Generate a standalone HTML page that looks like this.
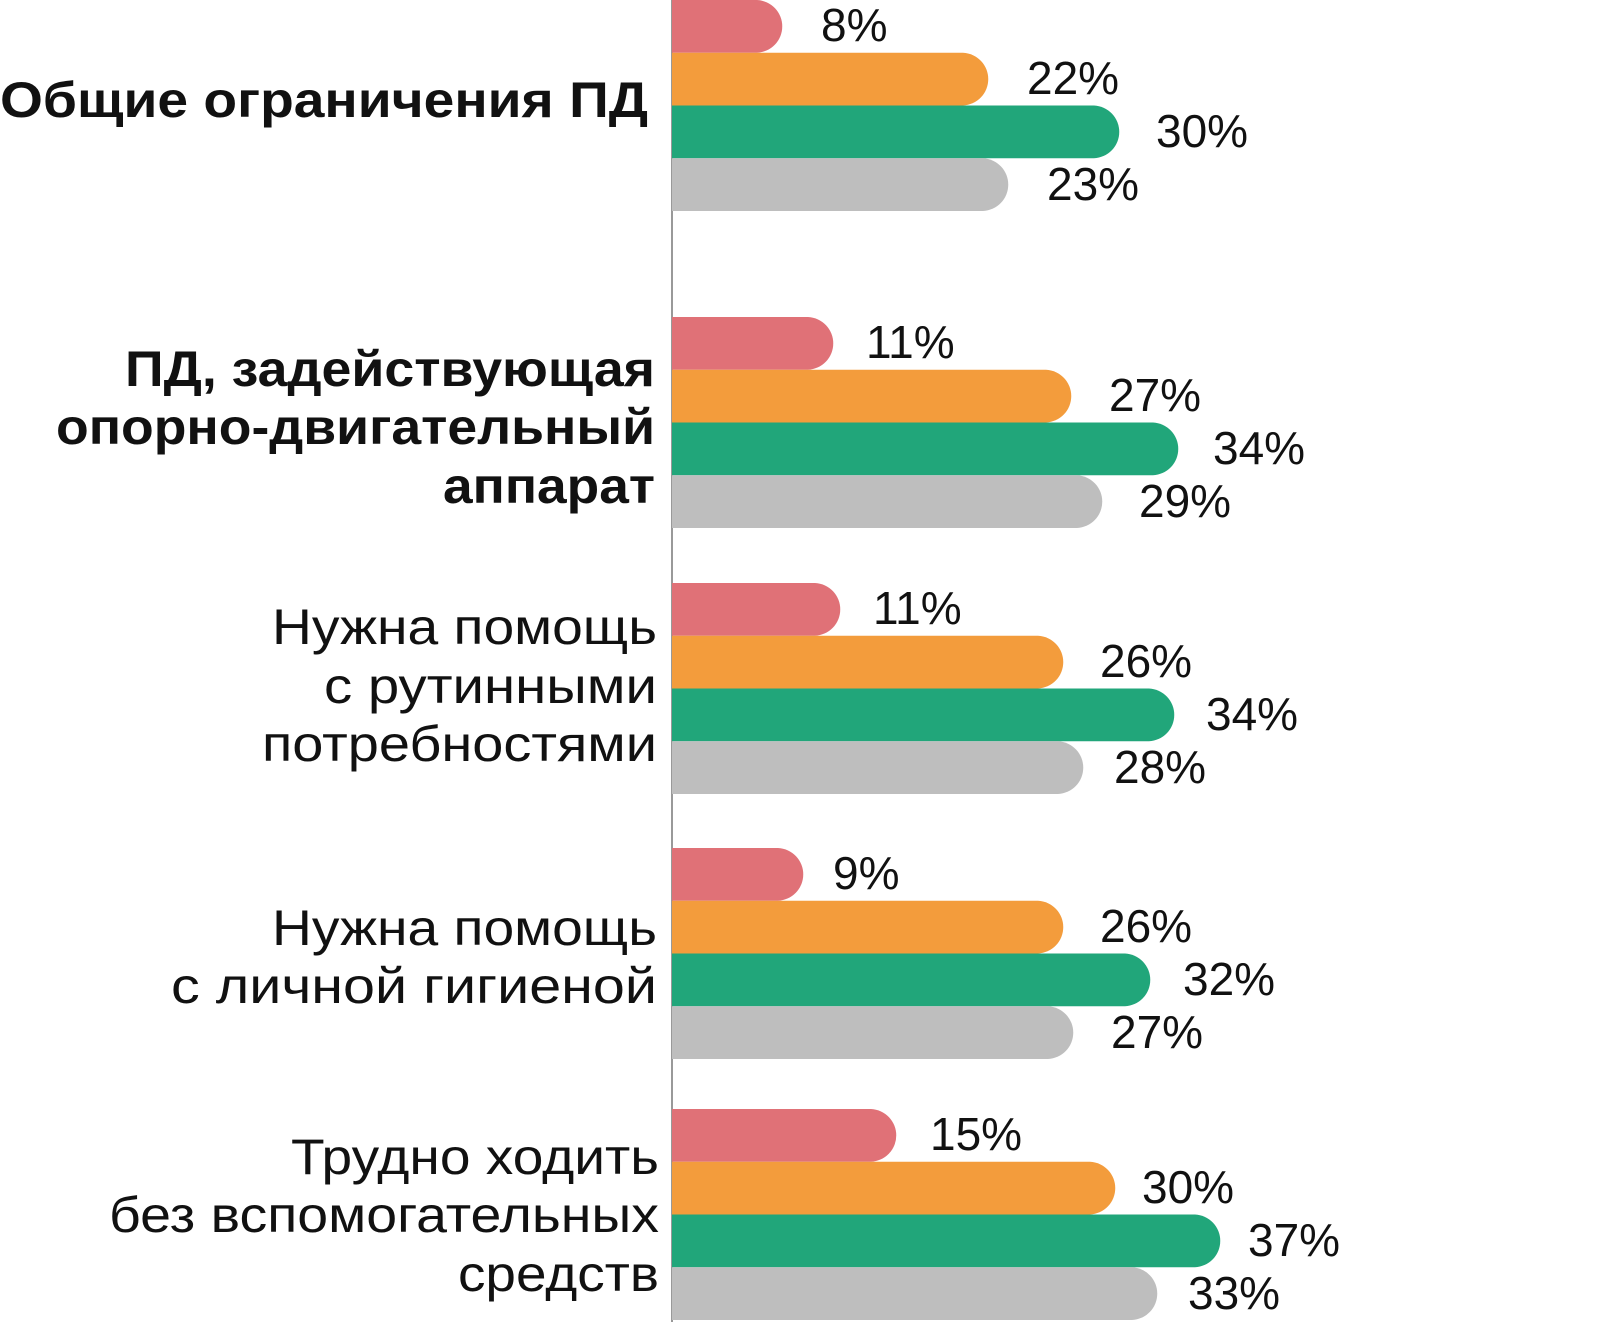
<!DOCTYPE html>
<html><head><meta charset="utf-8"><style>
html,body{margin:0;padding:0;background:#fff;}
svg{display:block;}
.c{font-family:"Liberation Sans",sans-serif;font-size:50px;fill:#111;}
.b{font-weight:bold;}
.v{font-family:"Liberation Sans",sans-serif;font-size:46px;fill:#111;}
</style></head><body>
<svg width="1600" height="1336" viewBox="0 0 1600 1336" xmlns="http://www.w3.org/2000/svg">
<line x1="672" y1="0" x2="672" y2="1322" stroke="#999" stroke-width="2"/>
<text class="c b" x="648" y="117" text-anchor="end" textLength="648" lengthAdjust="spacingAndGlyphs">Общие ограничения ПД</text>
<text class="c b" x="655" y="386" text-anchor="end" textLength="530" lengthAdjust="spacingAndGlyphs">ПД, задействующая</text>
<text class="c b" x="655" y="444" text-anchor="end" textLength="599" lengthAdjust="spacingAndGlyphs">опорно-двигательный</text>
<text class="c b" x="655" y="503" text-anchor="end" textLength="212" lengthAdjust="spacingAndGlyphs">аппарат</text>
<text class="c" x="657" y="644" text-anchor="end" textLength="385" lengthAdjust="spacingAndGlyphs">Нужна помощь</text>
<text class="c" x="657" y="703" text-anchor="end" textLength="333" lengthAdjust="spacingAndGlyphs">с рутинными</text>
<text class="c" x="657" y="761" text-anchor="end" textLength="395" lengthAdjust="spacingAndGlyphs">потребностями</text>
<text class="c" x="657" y="945" text-anchor="end" textLength="385" lengthAdjust="spacingAndGlyphs">Нужна помощь</text>
<text class="c" x="657" y="1003" text-anchor="end" textLength="486" lengthAdjust="spacingAndGlyphs">с личной гигиеной</text>
<text class="c" x="659" y="1174" text-anchor="end" textLength="368" lengthAdjust="spacingAndGlyphs">Трудно ходить</text>
<text class="c" x="659" y="1232" text-anchor="end" textLength="550" lengthAdjust="spacingAndGlyphs">без вспомогательных</text>
<text class="c" x="659" y="1291" text-anchor="end" textLength="201" lengthAdjust="spacingAndGlyphs">средств</text>

<g>
<path d="M672 0 H757 a26.4 26.4 0 0 1 0 52.75 H672Z" fill="#e07177"/>
<path d="M672 52.75 H963 a26.4 26.4 0 0 1 0 52.75 H672Z" fill="#f39c3c"/>
<path d="M672 105.5 H1094 a26.4 26.4 0 0 1 0 52.75 H672Z" fill="#21a67a"/>
<path d="M672 158.25 H983 a26.4 26.4 0 0 1 0 52.75 H672Z" fill="#bebebe"/>
<text class="v" x="821" y="41">8%</text>
<text class="v" x="1027" y="94">22%</text>
<text class="v" x="1156" y="147">30%</text>
<text class="v" x="1047" y="200">23%</text>

<path d="M672 317 H808 a26.4 26.4 0 0 1 0 52.75 H672Z" fill="#e07177"/>
<path d="M672 369.75 H1046 a26.4 26.4 0 0 1 0 52.75 H672Z" fill="#f39c3c"/>
<path d="M672 422.5 H1153 a26.4 26.4 0 0 1 0 52.75 H672Z" fill="#21a67a"/>
<path d="M672 475.25 H1077 a26.4 26.4 0 0 1 0 52.75 H672Z" fill="#bebebe"/>
<text class="v" x="866" y="358">11%</text>
<text class="v" x="1109" y="411">27%</text>
<text class="v" x="1213" y="464">34%</text>
<text class="v" x="1139" y="517">29%</text>

<path d="M672 583 H815 a26.4 26.4 0 0 1 0 52.75 H672Z" fill="#e07177"/>
<path d="M672 635.75 H1038 a26.4 26.4 0 0 1 0 52.75 H672Z" fill="#f39c3c"/>
<path d="M672 688.5 H1149 a26.4 26.4 0 0 1 0 52.75 H672Z" fill="#21a67a"/>
<path d="M672 741.25 H1058 a26.4 26.4 0 0 1 0 52.75 H672Z" fill="#bebebe"/>
<text class="v" x="873" y="624">11%</text>
<text class="v" x="1100" y="677">26%</text>
<text class="v" x="1206" y="730">34%</text>
<text class="v" x="1114" y="783">28%</text>

<path d="M672 848 H778 a26.4 26.4 0 0 1 0 52.75 H672Z" fill="#e07177"/>
<path d="M672 900.75 H1038 a26.4 26.4 0 0 1 0 52.75 H672Z" fill="#f39c3c"/>
<path d="M672 953.5 H1125 a26.4 26.4 0 0 1 0 52.75 H672Z" fill="#21a67a"/>
<path d="M672 1006.25 H1048 a26.4 26.4 0 0 1 0 52.75 H672Z" fill="#bebebe"/>
<text class="v" x="833" y="889">9%</text>
<text class="v" x="1100" y="942">26%</text>
<text class="v" x="1183" y="995">32%</text>
<text class="v" x="1111" y="1048">27%</text>

<path d="M672 1109 H871 a26.4 26.4 0 0 1 0 52.75 H672Z" fill="#e07177"/>
<path d="M672 1161.75 H1090 a26.4 26.4 0 0 1 0 52.75 H672Z" fill="#f39c3c"/>
<path d="M672 1214.5 H1195 a26.4 26.4 0 0 1 0 52.75 H672Z" fill="#21a67a"/>
<path d="M672 1267.25 H1132 a26.4 26.4 0 0 1 0 52.75 H672Z" fill="#bebebe"/>
<text class="v" x="930" y="1150">15%</text>
<text class="v" x="1142" y="1203">30%</text>
<text class="v" x="1248" y="1256">37%</text>
<text class="v" x="1188" y="1309">33%</text>
</g>
</svg>
</body></html>
